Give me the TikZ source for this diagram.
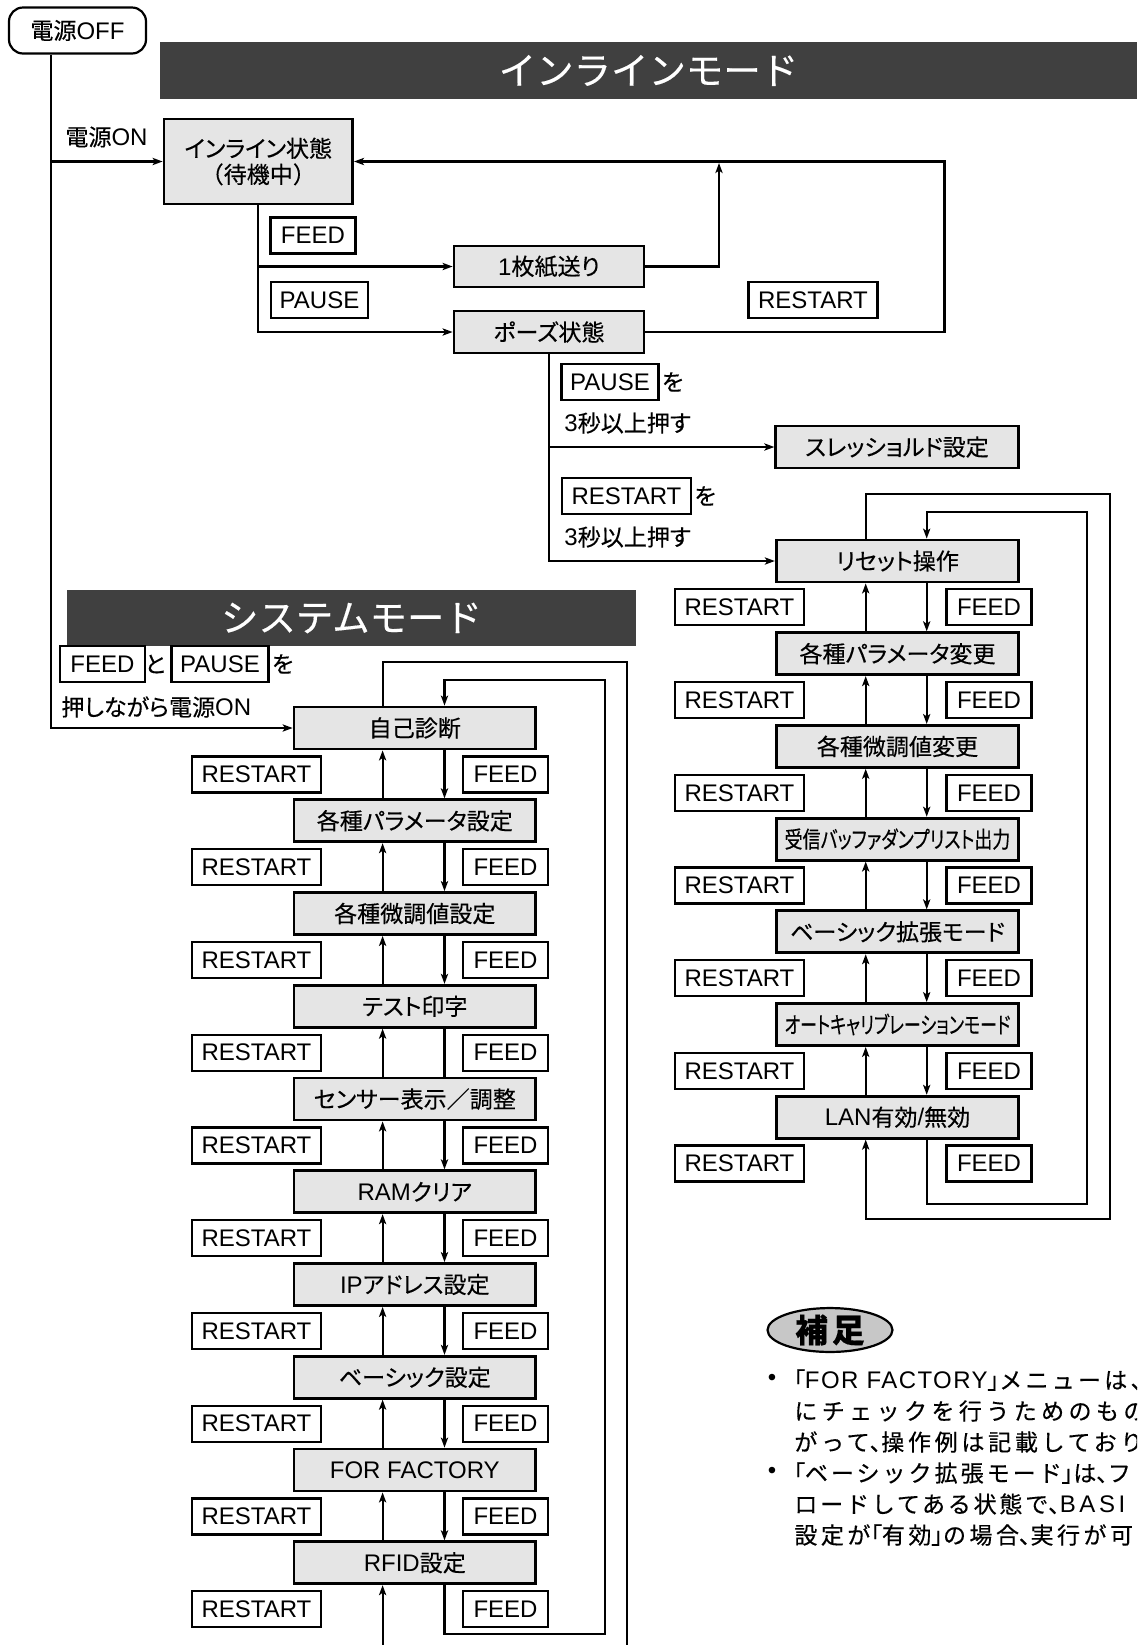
\documentclass[tikz,border=0pt]{standalone}
\usepackage{fontspec}
\usepackage{graphicx}
\setmainfont{Liberation Sans}
\newfontfamily\jp{Noto Sans CJK JP}[Scale=0.96,RawFeature={+palt},FakeBold=0.35]
\newfontfamily\jpm{Noto Sans CJK JP}[Scale=0.96,FakeBold=0.35]
\usetikzlibrary{arrows.meta,shapes.geometric}
\definecolor{boxgray}{gray}{0.9}
\definecolor{hdrgray}{HTML}{404040}
\definecolor{ovalgray}{gray}{0.78}
\newcommand{\jtxt}[1]{{\jp #1}}
\newcommand{\jmtxt}[1]{{\jpm #1}}
\newcommand{\jmono}[2]{{\jpm\addfontfeatures{LetterSpace=#1}#2}}
\newcommand{\jprop}[2]{{\jp\addfontfeatures{LetterSpace=#1}#2}}
\newcommand{\ltn}[2]{{\addfontfeatures{LetterSpace=#1}#2}}
\begin{document}
\begin{tikzpicture}[x=0.5pt,y=-0.5pt,
  every node/.style={inner sep=0pt, font=\fontsize{12}{14}\selectfont},
  stbox/.style={draw, line width=1.4pt, fill=boxgray, minimum width=121pt, minimum height=21pt},
  keyR/.style={draw, line width=1.1pt, fill=white, minimum width=64.5pt, minimum height=18pt},
  keyF/.style={keyR, minimum width=42.5pt},
  keyP/.style={keyR, minimum width=48.5pt},
  wire/.style={line width=1.1pt},
  arr/.style={wire, -{Stealth[length=5pt,width=3.6pt,inset=1.2pt]}},
  hdr/.style={fill=hdrgray, text=white, font=\fontsize{19.5}{20}\selectfont\jpm},
]
\useasboundingbox (0,0) rectangle (1137,1645);
\fill[white] (0,0) rectangle (1137,1645);

% ---------- headers ----------
\node[hdr, minimum width=488.5pt, minimum height=28.5pt] (hdr1) at (648.5,70.5) {インラインモード};
\node[hdr, minimum width=284.5pt, minimum height=28.25pt] (hdr2) at (351.5,618) {システムモード};

% ---------- power off ----------
\node[draw, line width=1.1pt, rounded corners=7pt, fill=white, minimum width=68.5pt, minimum height=23pt] (off) at (77.5,30.5) {\jtxt{電源}OFF};
\coordinate (vx) at (51,0);

% ---------- inline mode ----------
\node[stbox, minimum width=94.3pt, minimum height=42.5pt, align=center, font=\fontsize{12}{13}\selectfont] (inl) at (258.3,161.5) {\jtxt{インライン状態}\\\jmtxt{（待機中）}};
\node (on) at (106.5,137) {\jtxt{電源}ON};
\node[stbox, minimum width=95pt, minimum height=20.5pt] (sheet) at (549,266.5) {1\jtxt{枚紙送り}};
\node[stbox, minimum width=95pt] (pz) at (549,332) {\jtxt{ポーズ状態}};
\node[keyF] (kf1) at (313,235.5) {FEED};
\node[keyP] (kp1) at (319.5,300) {PAUSE};
\node[keyR] (kr1) at (813,300) {RESTART};
\coordinate (j1) at (719,163);

\draw[arr] (vx |- inl.west) -- (inl.west);
\draw[arr] (inl.south) |- (pz.west);
\draw[arr] (inl.south |- sheet.west) -- (sheet.west);
\draw[arr] (sheet.east) -| (j1);
\draw[arr] (pz.east) -- ++(299,0) |- (inl.east);

% ---------- pause branches ----------
\node[keyP] (kp2) at (610,382) {PAUSE};
\node[anchor=west] (wo1) at ([xshift=1pt]kp2.east) {\jtxt{を}};
\node[anchor=west] (sec1) at (564,423) {3\jtxt{秒以上押す}};
\node[stbox, minimum width=121.25pt] (th) at (897,447) {\jtxt{スレッショルド設定}};
\node[keyR] (kr2) at (626.5,496) {RESTART};
\node[anchor=west] (wo2) at ([xshift=1pt]kr2.east) {\jtxt{を}};
\node[anchor=west] (sec2) at (564,537) {3\jtxt{秒以上押す}};

% ---------- right column ----------
\node[stbox, minimum width=121.25pt] (r0) at (897.5,561) {\jtxt{リセット操作}};
\node[stbox, minimum width=121.25pt] (r1) at (897.5,653.7) {\jtxt{各種パラメータ変更}};
\node[stbox, minimum width=121.25pt] (r2) at (897.5,746.4) {\jtxt{各種微調値変更}};
\node[stbox, minimum width=121.25pt] (r3) at (897.5,839.1) {\scalebox{0.78}[1]{\jtxt{受信バッファダンプリスト出力}}};
\node[stbox, minimum width=121.25pt] (r4) at (897.5,931.8) {\jtxt{ベーシック拡張モード}};
\node[stbox, minimum width=121.25pt] (r5) at (897.5,1024.5) {\scalebox{0.74}[1]{\jtxt{オートキャリブレーションモード}}};
\node[stbox, minimum width=121.25pt] (r6) at (897.5,1117.2) {LAN\jtxt{有効}/\jtxt{無効}};

\draw[arr] (pz.south) |- (r0.west);
\draw[arr] (pz.south |- th.west) -- (th.west);

\coordinate (upR) at (865.7,0);
\coordinate (dnR) at (926.7,0);
\foreach \i in {0,...,6} {
  \node[keyR] (rr\i) at (739.5,{607.35+92.7*\i}) {RESTART};
  \node[keyF] (rf\i) at (989,{607.35+92.7*\i}) {FEED};
}
\foreach \i [count=\j from 1] in {0,...,5} {
  \draw[arr] (r\j.north -| upR) -- (r\i.south -| upR);
  \draw[arr] (r\i.south -| dnR) -- (r\j.north -| dnR);
}
\coordinate (ro1) at (1110,494);
\coordinate (ro2) at (1110,1219);
\coordinate (ri1) at (1087,512);
\coordinate (ri2) at (1087,1204);
\draw[arr] (r0.north -| upR) |- (ro1) -- (ro2) -| (r6.south -| upR);
\draw[arr] (r6.south -| dnR) |- (ri2) -- (ri1) -| (r0.north -| dnR);

% ---------- system mode ----------
\node[keyF] (kf3) at (102.5,664) {FEED};
\node (to) at (155,664) {\jtxt{と}};
\node[keyP] (kp3) at (220,664) {PAUSE};
\node[anchor=west] (wo3) at ([xshift=1pt]kp3.east) {\jtxt{を}};
\node[anchor=west] (psh) at (61,707) {\jtxt{押しながら電源}ON};

\node[stbox, minimum width=120.75pt] (s0) at (414.8,728) {\jtxt{自己診断}};
\node[stbox, minimum width=120.75pt] (s1) at (414.8,820.75) {\jtxt{各種パラメータ設定}};
\node[stbox, minimum width=120.75pt] (s2) at (414.8,913.5) {\jtxt{各種微調値設定}};
\node[stbox, minimum width=120.75pt] (s3) at (414.8,1006.25) {\jtxt{テスト印字}};
\node[stbox, minimum width=120.75pt] (s4) at (414.8,1099) {\jtxt{センサー表示／調整}};
\node[stbox, minimum width=120.75pt] (s5) at (414.8,1191.75) {RAM\jtxt{クリア}};
\node[stbox, minimum width=120.75pt] (s6) at (414.8,1284.5) {IP\jtxt{アドレス設定}};
\node[stbox, minimum width=120.75pt] (s7) at (414.8,1377.25) {\jtxt{ベーシック設定}};
\node[stbox, minimum width=120.75pt] (s8) at (414.8,1470) {FOR FACTORY};
\node[stbox, minimum width=120.75pt] (s9) at (414.8,1562.75) {RFID\jtxt{設定}};

\draw[arr] (off.south -| vx) |- (s0.west);

\coordinate (upL) at (382.6,0);
\coordinate (dnL) at (444.5,0);
\foreach \i in {0,...,9} {
  \node[keyR] (lr\i) at (256.5,{774.4+92.75*\i}) {RESTART};
  \node[keyF] (lf\i) at (505.5,{774.4+92.75*\i}) {FEED};
}
\foreach \i [count=\j from 1] in {0,...,8} {
  \draw[arr] (s\j.north -| upL) -- (s\i.south -| upL);
  \ifnum\i=3
    \draw[wire] (s\i.south -| dnL) -- (s\j.north -| dnL);
  \else
    \draw[arr] (s\i.south -| dnL) -- (s\j.north -| dnL);
  \fi
}
\coordinate (lo1) at (627,662);
\coordinate (lo2) at (627,1645);
\coordinate (li1) at (605,680);
\coordinate (li2) at (605,1634);
\coordinate (lb) at (382.6,1645);
\draw[wire] (s0.north -| upL) |- (lo1) -- (lo2);
\draw[arr] (lb) -- (s9.south -| upL);
\draw[arr] (s9.south -| dnL) |- (li2) -- (li1) -| (s0.north -| dnL);

% ---------- notes ----------
\node[ellipse, draw, line width=1.1pt, fill=ovalgray, minimum width=62.5pt, minimum height=21pt, font=\fontsize{17}{17}\selectfont\jpm\bfseries] (hs) at (830,1330) {補\hspace{2pt}足};
\begin{scope}
\clip (0,0) rectangle (1137,1645);
\node (b1) at (772,1380) {•};
\node (b4) at (772,1473) {•};
\node[anchor=west] (n1) at (793,1380) {\jprop{0}{「}\ltn{6}{FOR FACTORY}\jprop{0}{」}\jmono{14}{メニューは、}};
\node[anchor=west] (n2) at (794,1411) {\jmono{19}{にチェックを行うためのもの}};
\node[anchor=west] (n3) at (794,1442) {\jmono{16}{がって}\jprop{16}{、}\jmono{16}{操作例は記載しており}};
\node[anchor=west] (n4) at (793,1473) {\jprop{0}{「}\jmono{13}{ベーシック拡張モード}\jprop{0}{」}\jmono{13}{は}\jprop{0}{、}\jmono{13}{フ}};
\node[anchor=west] (n5) at (794,1504) {\jmono{12}{ロードしてある状態で}\jprop{0}{、}\ltn{15}{BASI}};
\node[anchor=west] (n6) at (794,1535) {\jmono{15}{設定が}\jprop{15}{「}\jmono{15}{有効}\jprop{15}{」}\jmono{15}{の場合}\jprop{15}{、}\jmono{15}{実行が可}};
\end{scope}
\end{tikzpicture}
\end{document}
